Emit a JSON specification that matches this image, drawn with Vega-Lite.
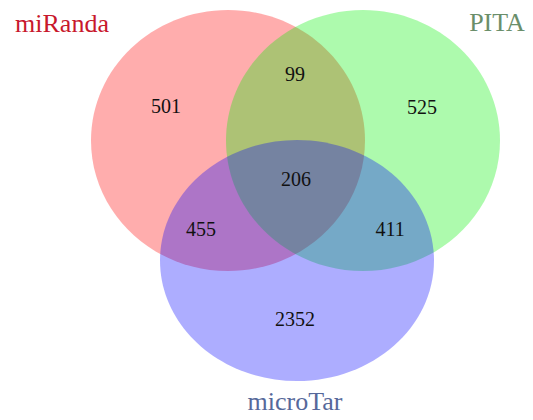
{
  "$schema": "https://vega.github.io/schema/vega-lite/v6.json",
  "width": 533,
  "height": 420,
  "autosize": {"type": "none"},
  "padding": 0,
  "background": "white",
  "config": {"view": {"stroke": null}},
  "datasets": {
    "circles": [
      {"set": "miRanda", "cx": 228, "cy": 140.5},
      {"set": "PITA", "cx": 363, "cy": 140.5},
      {"set": "microTar", "cx": 297, "cy": 260.5}
    ],
    "counts": [
      {"region": "miRanda only", "n": 501, "x": 166, "y": 107},
      {"region": "miRanda & PITA", "n": 99, "x": 295, "y": 75},
      {"region": "PITA only", "n": 525, "x": 422, "y": 108},
      {"region": "all three", "n": 206, "x": 296, "y": 180},
      {"region": "miRanda & microTar", "n": 455, "x": 201, "y": 230},
      {"region": "PITA & microTar", "n": 411, "x": 390, "y": 230},
      {"region": "microTar only", "n": 2352, "x": 295, "y": 320}
    ],
    "labels": [
      {"set": "miRanda", "x": 62, "y": 24},
      {"set": "PITA", "x": 497, "y": 23},
      {"set": "microTar", "x": 295, "y": 402}
    ]
  },
  "layer": [
    {
      "data": {"name": "circles"},
      "mark": {"type": "point", "filled": true, "fillOpacity": 0.32, "strokeOpacity": 0.4, "strokeWidth": 1},
      "encoding": {
        "x": {"field": "cx", "type": "quantitative", "scale": {"domain": [0, 533], "nice": false, "zero": false}, "axis": null},
        "y": {"field": "cy", "type": "quantitative", "scale": {"domain": [0, 420], "nice": false, "zero": false, "reverse": true}, "axis": null},
        "color": {"field": "set", "type": "nominal", "scale": {"domain": ["miRanda", "PITA", "microTar"], "range": ["#ff0000", "#00f000", "#0000ff"]}, "legend": null},
        "shape": {"field": "set", "type": "nominal", "scale": {"domain": ["miRanda", "PITA", "microTar"], "range": [
          "M1,0C1,0.5263 0.5523,0.953 0,0.953C-0.5523,0.953 -1,0.5263 -1,0C-1,-0.5263 -0.5523,-0.953 0,-0.953C0.5523,-0.953 1,-0.5263 1,0Z",
          "M1,0C1,0.5263 0.5523,0.953 0,0.953C-0.5523,0.953 -1,0.5263 -1,0C-1,-0.5263 -0.5523,-0.953 0,-0.953C0.5523,-0.953 1,-0.5263 1,0Z",
          "M1,0C1,0.486 0.5523,0.88 0,0.88C-0.5523,0.88 -1,0.486 -1,0C-1,-0.486 -0.5523,-0.88 0,-0.88C0.5523,-0.88 1,-0.486 1,0Z"
        ]}, "legend": null},
        "size": {"field": "set", "type": "nominal", "scale": {"domain": ["miRanda", "PITA", "microTar"], "range": [75076, 75076, 76176]}, "legend": null}
      }
    },
    {
      "data": {"name": "counts"},
      "mark": {"type": "text", "font": "Liberation Serif", "fontSize": 20, "color": "#111111", "align": "center", "baseline": "middle"},
      "encoding": {
        "x": {"field": "x", "type": "quantitative"},
        "y": {"field": "y", "type": "quantitative"},
        "text": {"field": "n", "type": "quantitative", "format": "d"}
      }
    },
    {
      "data": {"name": "labels"},
      "mark": {"type": "text", "font": "Liberation Serif", "fontSize": 26, "align": "center", "baseline": "middle"},
      "encoding": {
        "x": {"field": "x", "type": "quantitative"},
        "y": {"field": "y", "type": "quantitative"},
        "text": {"field": "set", "type": "nominal"},
        "color": {"field": "set", "type": "nominal", "scale": {"domain": ["miRanda", "PITA", "microTar"], "range": ["#c8182c", "#6a8e6a", "#56689a"]}, "legend": null}
      }
    }
  ],
  "resolve": {"scale": {"color": "independent"}}
}
